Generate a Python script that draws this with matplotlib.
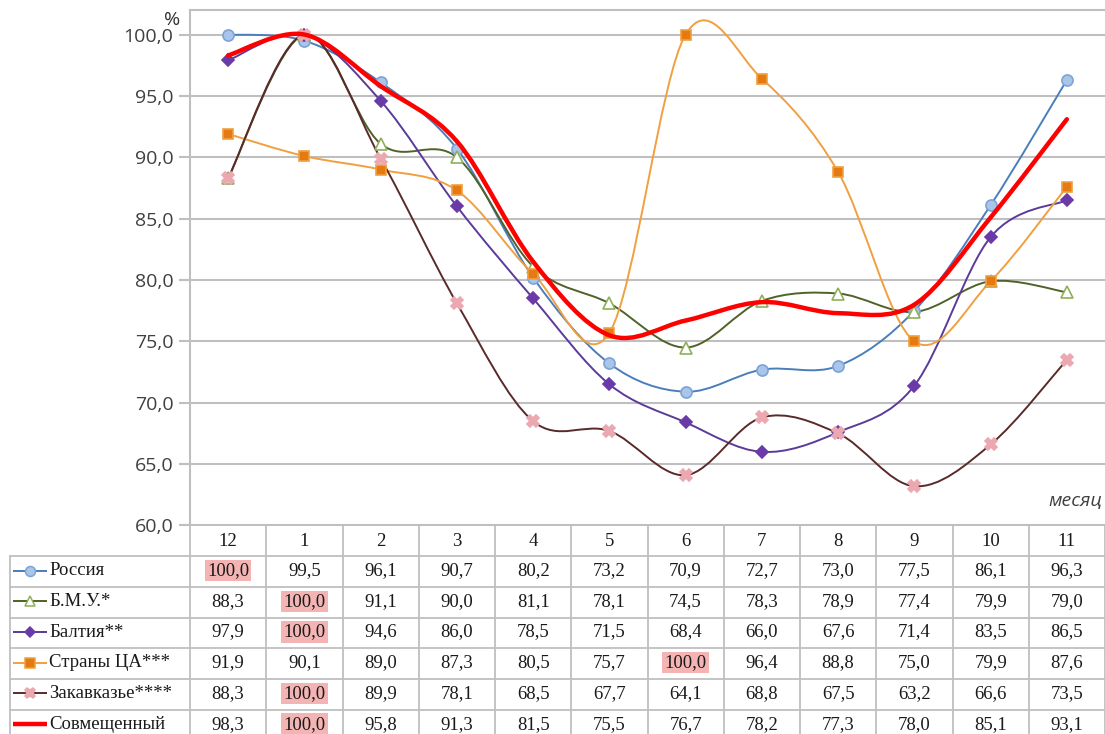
import numpy as np
import matplotlib.pyplot as plt
from matplotlib.path import Path
from matplotlib.patches import PathPatch

months = ['12', '1', '2', '3', '4', '5', '6', '7', '8', '9', '10', '11']

russia = [100.0, 99.5, 96.1, 90.7, 80.2, 73.2, 70.9, 72.7, 73.0, 77.5, 86.1, 96.3]
bmu = [88.3, 100.0, 91.1, 90.0, 81.1, 78.1, 74.5, 78.3, 78.9, 77.4, 79.9, 79.0]
baltia = [97.9, 100.0, 94.6, 86.0, 78.5, 71.5, 68.4, 66.0, 67.6, 71.4, 83.5, 86.5]
ca = [91.9, 90.1, 89.0, 87.3, 80.5, 75.7, 100.0, 96.4, 88.8, 75.0, 79.9, 87.6]
zakavk = [88.3, 100.0, 89.9, 78.1, 68.5, 67.7, 64.1, 68.8, 67.5, 63.2, 66.6, 73.5]
combined = [98.3, 100.0, 95.8, 91.3, 81.5, 75.5, 76.7, 78.2, 77.3, 78.0, 85.1, 93.1]

series = [
    ('Россия', russia, dict(color='#4A7EBB', marker='o', mfc='#A9C6EA', mec='#7DA3D6', ms=8, lw=1.4)),
    ('Б.М.У.*', bmu, dict(color='#4F6228', marker='^', mfc='white', mec='#8FAF5A', ms=8, lw=1.4)),
    ('Балтия**', baltia, dict(color='#5B3A9A', marker='D', mfc='#6A3AA8', mec='#6A3AA8', ms=6, lw=1.4)),
    ('Страны ЦА***', ca, dict(color='#F0A040', marker='s', mfc='#E57A10', mec='#F0A040', ms=7.5, lw=1.4)),
    ('Закавказье****', zakavk, dict(color='#5A2A2A', marker='X', mfc='#EBA8B0', mec='#EBA8B0', ms=8.5, lw=1.4)),
    ('Совмещенный', combined, dict(color='#FF0000', marker=None, lw=3.2)),
]

W, H = 1105, 734
fig = plt.figure(figsize=(W / 100, H / 100), dpi=100)

left_px, top_px, bot_px = 190, 10, 525.5
ax = fig.add_axes([left_px / W, (H - bot_px) / H, (W - left_px) / W, (bot_px - top_px) / H])
x = np.arange(len(months))
ax.set_xlim(-0.5, len(months) - 0.5)
ax.set_ylim(60, 102)

grid_c = '#BFBFBF'
ax.set_yticks(np.arange(60, 101, 5))
ax.set_yticklabels([f'{v:.1f}'.replace('.', ',') for v in np.arange(60, 101, 5)],
                   fontsize=14, color='#404040', family='Open Sans')
ax.tick_params(axis='y', length=8, width=1.5, color=grid_c, pad=4)
ax.set_xticks([])
ax.grid(axis='y', color=grid_c, lw=1.5)
ax.set_axisbelow(True)
for s in ['right', 'bottom']:
    ax.spines[s].set_visible(False)
for s in ['left', 'top']:
    ax.spines[s].set_color(grid_c)
    ax.spines[s].set_linewidth(1.5)


def smooth_path(xs, ys, t=1 / 6):
    # Excel-like smoothed line: Catmull-Rom as cubic Bezier segments
    pts = np.column_stack([xs, ys]).astype(float)
    verts = [pts[0]]
    codes = [Path.MOVETO]
    n = len(pts)
    for i in range(n - 1):
        p0 = pts[max(i - 1, 0)]
        p1 = pts[i]
        p2 = pts[i + 1]
        p3 = pts[min(i + 2, n - 1)]
        c1 = p1 + (p2 - p0) * t
        c2 = p2 - (p3 - p1) * t
        verts += [c1, c2, p2]
        codes += [Path.CURVE4] * 3
    return Path(verts, codes)


for name, vals, st in series:
    patch = PathPatch(smooth_path(x, vals), fill=False, edgecolor=st['color'], lw=st['lw'],
                      capstyle='round', joinstyle='round', zorder=3 if st['marker'] else 5)
    ax.add_patch(patch)
    if st['marker']:
        ax.plot(x, vals, linestyle='none', marker=st['marker'], ms=st['ms'],
                mfc=st['mfc'], mec=st['mec'], mew=1.2, zorder=4)

ax.text(0.997, 0.03, 'месяц', transform=ax.transAxes, ha='right', va='bottom',
        fontsize=14, style='italic', color='#404040', family='Open Sans')
fig.text(172 / W, 1 - 20 / H, '%', ha='center', va='center', fontsize=14,
         color='#303030', family='Open Sans')

# data table
row_h = 30.7
n_rows = len(series) + 1
tab_top = bot_px
tab_bot = tab_top + row_h * n_rows
tax = fig.add_axes([left_px / W, (H - tab_bot) / H, (W - left_px) / W, (tab_bot - tab_top) / H])
tax.set_xlim(-0.5, len(months) - 0.5)
tax.set_ylim(n_rows, 0)
tax.axis('off')
col_w = (W - left_px) / len(months)
lab_left = -0.5 - (left_px - 10) / col_w

for k in range(len(months) + 1):
    tax.plot([-0.5 + k, -0.5 + k], [0, n_rows], color=grid_c, lw=1.3, clip_on=False)
tax.plot([lab_left, lab_left], [1, n_rows], color=grid_c, lw=1.3, clip_on=False)
for r in range(1, n_rows + 1):
    tax.plot([lab_left, len(months) - 0.5], [r, r], color=grid_c, lw=1.3, clip_on=False)

tfont = dict(family='Liberation Serif', fontsize=13.5, color='#1A1A1A')
for j, m in enumerate(months):
    tax.text(j, 0.52, m, ha='center', va='center', **tfont)

key_x0 = lab_left + 3 / col_w
key_x1 = lab_left + 37 / col_w
for i, (name, vals, st) in enumerate(series):
    yr = i + 1.47
    tax.plot([key_x0, key_x1], [yr, yr], color=st['color'], lw=min(st['lw'], 3.2),
             clip_on=False, solid_capstyle='butt')
    if st['marker']:
        tax.plot([(key_x0 + key_x1) / 2], [yr], marker=st['marker'], ms=st['ms'] * 0.9,
                 mfc=st['mfc'], mec=st['mec'], mew=1.1, clip_on=False)
    tax.text(key_x1 + 2 / col_w, yr, name, ha='left', va='center', clip_on=False, **tfont)
    top = max(vals)
    for j, v in enumerate(vals):
        kw = {}
        if v == top and v == 100.0:
            kw['bbox'] = dict(boxstyle='square,pad=0.12', fc='#F4B4B4', ec='none')
        tax.text(j, yr, f'{v:.1f}'.replace('.', ','), ha='center', va='center', **tfont, **kw)

fig.savefig('out.png', dpi=100)
